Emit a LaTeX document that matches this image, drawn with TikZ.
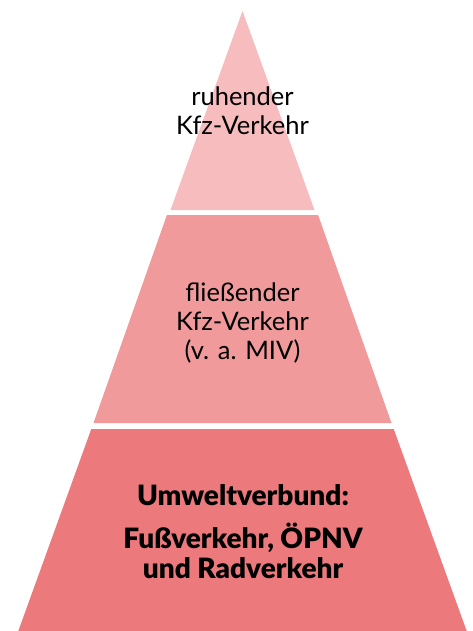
\documentclass[tikz,border=0pt]{standalone}
\usepackage{fontspec}
\setmainfont{Lato}
\newfontfamily\heavyfont{Lato Black}
\definecolor{tierA}{RGB}{246,188,190}
\definecolor{tierB}{RGB}{240,154,156}
\definecolor{tierC}{RGB}{236,121,124}
\tikzset{
  lbl/.style={align=center, font=\fontsize{25.5}{29}\selectfont, text=black, inner sep=0pt},
  blbl/.style={align=center, font=\heavyfont\fontsize{28}{30}\selectfont, text=black, inner sep=0pt}
}
\begin{document}
\begin{tikzpicture}[x=1pt,y=-1pt]
\useasboundingbox (0,0) rectangle (473,631);
% apex (242.5,11), half-slope 0.3616
\fill[tierA] (242.5,11) -- (314.5,210) -- (170.5,210) -- cycle;
\fill[tierB] (166.9,215) -- (318.1,215) -- (391.5,423) -- (93.5,423) -- cycle;
\fill[tierC] (91.3,429) -- (393.7,429) -- (466.7,631) -- (18.3,631) -- cycle;
\node[lbl] (top) at (242.5,111) {ruhender\\Kfz-Verkehr};
\node[lbl] (mid) at (242.5,323) {fließender\\Kfz-Verkehr\\(v. a. MIV)};
\node[blbl] (b1) at (243,495) {Umweltverbund:};
\node[blbl] (b2) at (243,551) {Fußverkehr, ÖPNV\\und Radverkehr};
\end{tikzpicture}
\end{document}
